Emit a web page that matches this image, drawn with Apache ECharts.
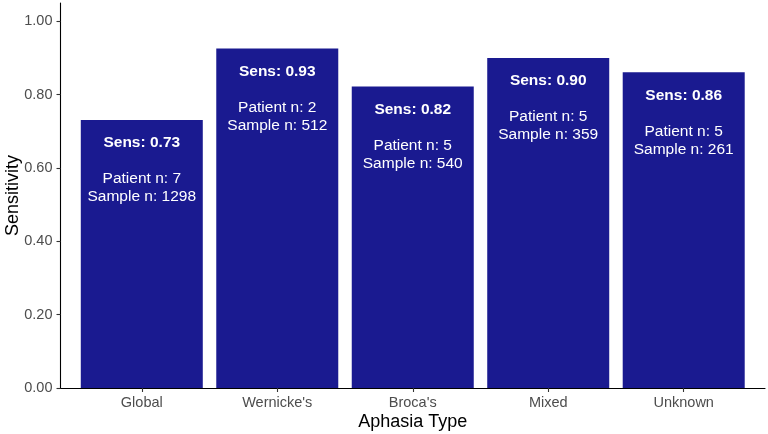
<!DOCTYPE html>
<html>
<head>
<meta charset="utf-8">
<script src="https://cdn.jsdelivr.net/npm/echarts@6/dist/echarts.min.js"></script>
<style>
  html, body { margin: 0; padding: 0; background: #fff; }
  #chart { width: 768px; height: 434px; }
</style>
</head>
<body>
<div id="chart"></div>
<script>
const categories = ['Global', "Wernicke's", "Broca's", 'Mixed', 'Unknown'];
const sensitivity = [0.731, 0.926, 0.822, 0.900, 0.861];
const patientN = [7, 2, 5, 5, 5];
const sampleN = [1298, 512, 540, 359, 261];
const yTicks = [0, 0.2, 0.4, 0.6, 0.8, 1.0];
const xPositions = [1, 2, 3, 4, 5];

const fontFamily = '"Liberation Sans", Arial, Helvetica, sans-serif';
const chart = echarts.init(document.getElementById('chart'));

chart.setOption({
  animation: false,
  textStyle: { fontFamily },
  grid: { left: 60.5, right: 3, top: 3, bottom: 46, containLabel: false, outerBoundsMode: 'none' },
  xAxis: {
    type: 'value',
    min: 0.4,
    max: 5.6,
    name: 'Aphasia Type',
    nameLocation: 'middle',
    nameGap: 25,
    nameMoveOverlap: false,
    nameTextStyle: { fontSize: 18, color: '#000', fontFamily },
    splitLine: { show: false },
    axisLine: { show: true, lineStyle: { color: '#000', width: 1.1 } },
    axisTick: {
      show: true, length: 4, inside: false,
      customValues: xPositions,
      lineStyle: { color: '#333', width: 1.1 }
    },
    axisLabel: {
      customValues: xPositions,
      margin: 7,
      fontSize: 14.5,
      color: '#4d4d4d',
      fontFamily,
      formatter: (v) => categories[Math.round(v) - 1] || ''
    }
  },
  yAxis: {
    type: 'value',
    min: 0,
    max: 1.05,
    name: 'Sensitivity',
    nameLocation: 'middle',
    nameGap: 38,
    nameMoveOverlap: false,
    nameTextStyle: { fontSize: 18, color: '#000', fontFamily },
    splitLine: { show: false },
    axisLine: { show: true, lineStyle: { color: '#000', width: 1.1 } },
    axisTick: {
      show: true, length: 4,
      customValues: yTicks,
      lineStyle: { color: '#333', width: 1.1 }
    },
    axisLabel: {
      customValues: yTicks,
      margin: 8,
      fontSize: 14.5,
      color: '#4d4d4d',
      fontFamily,
      formatter: (v) => v.toFixed(2)
    }
  },
  series: [{
    type: 'bar',
    barWidth: 122,
    itemStyle: { color: '#1a1a90' },
    data: sensitivity.map((v, i) => [xPositions[i], v]),
    label: {
      show: true,
      position: 'insideTop',
      distance: 14,
      color: '#fff',
      fontSize: 15.5,
      lineHeight: 18,
      align: 'center',
      formatter: (p) => {
        const i = p.dataIndex;
        return '{b|Sens: ' + sensitivity[i].toFixed(2) + '}\n\n' +
          '{n|Patient n: ' + patientN[i] + '}\n' +
          '{n|Sample n: ' + sampleN[i] + '}';
      },
      rich: {
        b: { fontWeight: 'bold', fontSize: 15.5, lineHeight: 18, color: '#fff', fontFamily },
        n: { fontSize: 15.5, lineHeight: 18, color: '#fff', fontFamily }
      }
    }
  }]
});
</script>
</body>
</html>
